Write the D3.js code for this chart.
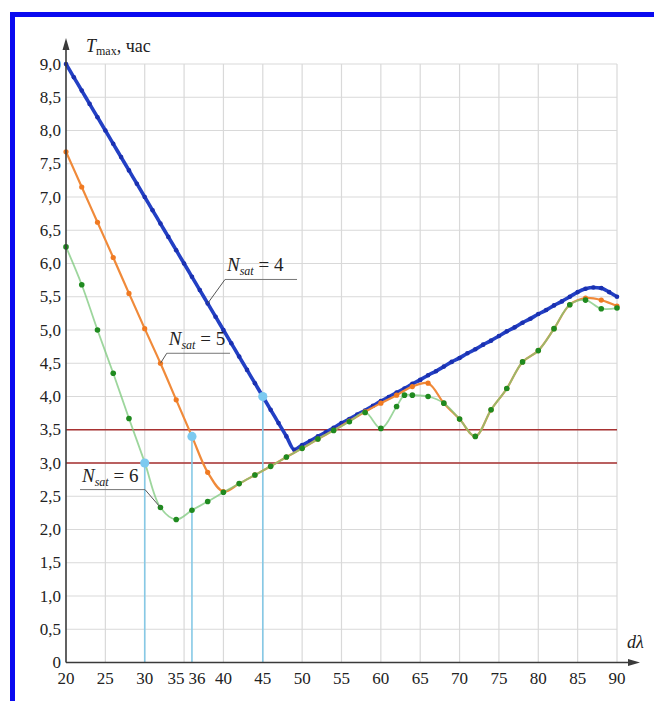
<!DOCTYPE html>
<html><head><meta charset="utf-8">
<script src="https://cdn.jsdelivr.net/npm/d3@7"></script>
<style>body{margin:0;background:#fff}svg{display:block}</style>
</head><body>
<script>
// ---- data ----
const xTicks = [20,25,30,35,36,40,45,50,55,60,65,70,75,80,85,90];
const yTicks = [0,0.5,1,1.5,2,2.5,3,3.5,4,4.5,5,5.5,6,6.5,7,7.5,8,8.5,9];
const yTickLabels = ["0","0,5","1,0","1,5","2,0","2,5","3,0","3,5","4,0","4,5","5,0","5,5","6,0","6,5","7,0","7,5","8,0","8,5","9,0"];
const gridX = [25,30,35,40,45,50,55,60,65,70,75,80,85,90];

const blueX = [20,21,22,23,24,25,26,27,28,29,30,31,32,33,34,35,36,37,38,39,40,41,42,43,44,45,46,47,48,49,50,51,52,53,54,55,56,57,58,59,60,61,62,63,64,65,66,67,68,69,70,71,72,73,74,75,76,77,78,79,80,81,82,83,84,85,86,87,88,89,90];
const blueY = [9.0,8.8,8.6,8.4,8.2,8.0,7.8,7.6,7.4,7.2,7.0,6.8,6.6,6.4,6.2,6.0,5.8,5.6,5.4,5.2,5.0,4.8,4.6,4.4,4.2,4.0,3.8,3.6,3.4,3.2,3.27,3.33,3.4,3.46,3.53,3.6,3.66,3.73,3.79,3.86,3.93,3.99,4.06,4.12,4.19,4.25,4.32,4.38,4.45,4.52,4.58,4.65,4.71,4.78,4.84,4.91,4.98,5.04,5.11,5.17,5.24,5.3,5.37,5.43,5.5,5.57,5.62,5.64,5.63,5.57,5.5];

const orangeX = [20,22,24,26,28,30,32,34,36,38,40,42,44,46,48,50,52,54,56,58,60,62,64,66,68,70,72,74,76,78,80,82,84,86,88,90];
const orangeY = [7.68,7.15,6.62,6.09,5.55,5.02,4.5,3.95,3.4,2.86,2.57,2.69,2.82,2.95,3.09,3.22,3.36,3.49,3.63,3.77,3.9,4.02,4.15,4.2,3.9,3.66,3.4,3.8,4.12,4.52,4.69,5.02,5.38,5.48,5.45,5.36];

const greenX = [20,22,24,26,28,30,32,34,36,38,40,42,44,46,48,50,52,54,56,58,60,62,63,64,66,68,70,72,74,76,78,80,82,84,86,88,90];
const greenY = [6.25,5.68,5.0,4.35,3.67,3.01,2.33,2.15,2.29,2.42,2.56,2.69,2.82,2.95,3.09,3.22,3.36,3.49,3.62,3.76,3.52,3.85,4.02,4.02,4.0,3.9,3.66,3.4,3.8,4.12,4.52,4.69,5.02,5.38,5.45,5.32,5.33];

const limitLines = [3.0, 3.5];
const markX = [30,36,45];
const markY = [3.0,3.4,4.0];

const labels = [
  {n:"4", x1:40.2, x2:49.35, y:5.76, tx:38, ty:5.4, side:"left"},
  {n:"5", x1:32.8, x2:40.84, y:4.65, tx:32, ty:4.5, side:"left"},
  {n:"6", x1:21.78, x2:30.04, y:2.6, tx:32, ty:2.33, side:"right"}
];

// ---- drawing ----
const W=654,H=701;
const FONT='"Liberation Serif","Times New Roman","DejaVu Serif",serif';
const svg=d3.select("body").append("svg").attr("width",W).attr("height",H).attr("font-family",FONT);
const x=d3.scaleLinear().domain([20,90]).range([66,617]);
const y=d3.scaleLinear().domain([0,9]).range([662.5,64]);

// frame
svg.append("rect").attr("x",12.5).attr("y",14.5).attr("width",700).attr("height",720)
  .attr("fill","none").attr("stroke","#0a0af0").attr("stroke-width",5);

// grid
const g=svg.append("g");
g.selectAll(".gh").data(yTicks.filter(d=>d>0)).join("line")
  .attr("x1",x(20)).attr("x2",x(90)).attr("y1",d=>y(d)).attr("y2",d=>y(d))
  .attr("stroke","#d9d9d9").attr("stroke-width",1.2);
g.selectAll(".gv").data(gridX).join("line")
  .attr("x1",d=>x(d)).attr("x2",d=>x(d)).attr("y1",y(0)).attr("y2",y(9))
  .attr("stroke","#d9d9d9").attr("stroke-width",1.2);

// red limit lines
g.selectAll(".red").data(limitLines).join("line")
  .attr("x1",x(20)).attr("x2",x(90)).attr("y1",d=>y(d)).attr("y2",d=>y(d))
  .attr("stroke","#a83232").attr("stroke-width",1.6);

// light blue verticals
const marks=markX.map((d,i)=>({x:d,y:markY[i]}));
g.selectAll(".lb").data(marks).join("line")
  .attr("x1",d=>x(d.x)).attr("x2",d=>x(d.x)).attr("y1",y(0)).attr("y2",d=>y(d.y))
  .attr("stroke","#86c9e6").attr("stroke-width",1.6);

const line=d3.line().x(d=>x(d[0])).y(d=>y(d[1])).curve(d3.curveCatmullRom.alpha(0.5));
const lineB=d3.line().x(d=>x(d[0])).y(d=>y(d[1])).curve(d3.curveMonotoneX);
const blue=blueX.map((d,i)=>[d,blueY[i]]);
const orange=orangeX.map((d,i)=>[d,orangeY[i]]);
const green=greenX.map((d,i)=>[d,greenY[i]]);

svg.append("path").attr("d",lineB(blue)).attr("fill","none").attr("stroke","#2340c4").attr("stroke-width",3.6).attr("stroke-linejoin","round");
svg.selectAll(".bd").data(blue).join("circle").attr("cx",d=>x(d[0])).attr("cy",d=>y(d[1])).attr("r",2.3).attr("fill","#1a30b0");
svg.append("path").attr("d",line(orange)).attr("fill","none").attr("stroke","#f08a3a").attr("stroke-width",2.2);
svg.selectAll(".od").data(orange).join("circle").attr("cx",d=>x(d[0])).attr("cy",d=>y(d[1])).attr("r",2.6).attr("fill","#f07a22");
svg.append("path").attr("d",line(green)).attr("fill","none").attr("stroke","#7cc87c").attr("stroke-width",1.8).attr("stroke-opacity",0.75);
svg.selectAll(".gd").data(green).join("circle").attr("cx",d=>x(d[0])).attr("cy",d=>y(d[1])).attr("r",2.8).attr("fill","#1f8a1f");

svg.selectAll(".lbm").data(marks).join("circle").attr("cx",d=>x(d.x)).attr("cy",d=>y(d.y)).attr("r",4.6).attr("fill","#7ccaf0");

// axes
const ax="#3a3a3a";
svg.append("line").attr("x1",x(20)).attr("x2",632).attr("y1",y(0)).attr("y2",y(0)).attr("stroke",ax).attr("stroke-width",1.6);
svg.append("path").attr("d",`M640,${y(0)} L628,${y(0)-3.5} L628,${y(0)+3.5}Z`).attr("fill",ax);
svg.append("line").attr("x1",x(20)).attr("x2",x(20)).attr("y1",y(0)).attr("y2",46).attr("stroke",ax).attr("stroke-width",1.6);
svg.append("path").attr("d",`M${x(20)},38 L${x(20)-3.5},50 L${x(20)+3.5},50Z`).attr("fill",ax);

// tick labels
svg.selectAll(".yt").data(yTicks).join("text")
  .attr("x",61).attr("y",d=>y(d)+5.5).attr("text-anchor","end").attr("font-size",17).attr("fill","#222")
  .text((d,i)=>yTickLabels[i]);
const xOff={35:-8,36:5};
svg.selectAll(".xt").data(xTicks).join("text")
  .attr("x",d=>x(d)+(xOff[d]||0)).attr("y",684).attr("text-anchor","middle").attr("font-size",17).attr("fill","#222")
  .text(d=>d);

// axis titles
const yt=svg.append("text").attr("x",86).attr("y",52).attr("font-size",18).attr("fill","#222");
yt.append("tspan").attr("font-style","italic").text("T");
yt.append("tspan").attr("font-size",12).attr("dy",3).text("max");
yt.append("tspan").attr("dy",-3).text(", час");
svg.append("text").attr("x",627).attr("y",648).attr("font-size",18).attr("font-style","italic").attr("fill","#222").text("dλ");

// series labels
labels.forEach(l=>{
  svg.append("line").attr("x1",x(l.x1)).attr("x2",x(l.x2)).attr("y1",y(l.y)).attr("y2",y(l.y)).attr("stroke","#777").attr("stroke-width",1);
  const sx = l.side==="left"?x(l.x1):x(l.x2);
  svg.append("line").attr("x1",sx).attr("y1",y(l.y)).attr("x2",x(l.tx)).attr("y2",y(l.ty)).attr("stroke","#555").attr("stroke-width",1);
  const t=svg.append("text").attr("x",x(l.x1)+2).attr("y",y(l.y)-8).attr("font-size",19).attr("fill","#222");
  t.append("tspan").attr("font-style","italic").text("N");
  t.append("tspan").attr("font-style","italic").attr("font-size",12).attr("dy",4).text("sat");
  t.append("tspan").attr("dy",-4).text(" = "+l.n);
});
</script>
</body></html>
